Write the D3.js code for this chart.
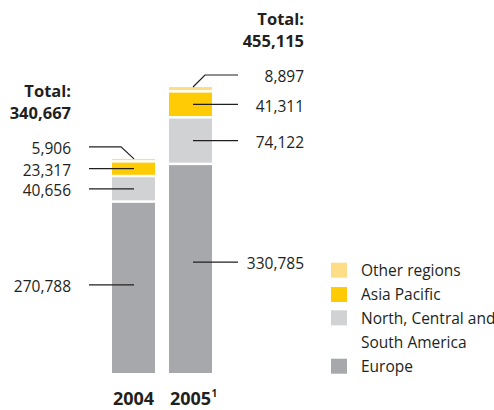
<!DOCTYPE html>
<html>
<head>
<meta charset="utf-8">
<script src="https://cdn.jsdelivr.net/npm/d3@7"></script>
<style>
  html, body { margin: 0; padding: 0; background: #fff; }
  svg text { font-family: "Open Sans", "Noto Sans", sans-serif; fill: #231f20; }
</style>
</head>
<body>
<svg id="chart" width="494" height="410"></svg>
<script>
// ---- data ----
const years = ["2004", "2005"];
const yearLabels = ["2004", "2005"];
const yearFootnotes = ["", "1"];
const regions = ["Europe", "North, Central and South America", "Asia Pacific", "Other regions"];
const europe = [270788, 330785];
const americas = [40656, 74122];
const asiaPacific = [23317, 41311];
const otherRegions = [5906, 8897];
const totals = [340667, 455115];
const valueLabels = [["270,788", "40,656", "23,317", "5,906"], ["330,785", "74,122", "41,311", "8,897"]];
const totalLabels = ["340,667", "455,115"];
const legendItems = ["Other regions", "Asia Pacific", "North, Central and|South America", "Europe"];

// ---- style ----
const colors = {
  "Europe": "#a7a8ac",
  "North, Central and South America": "#d1d2d4",
  "Asia Pacific": "#ffcb05",
  "Other regions": "#fedd87"
};
const legendColorOrder = ["Other regions", "Asia Pacific", "North, Central and South America", "Europe"];

const svg = d3.select("#chart");
const x = d3.scaleBand().domain(years).range([112, 212]).paddingInner(0.2456).paddingOuter(0);
const y = d3.scaleLinear().domain([0, 455115]).range([373, 87]);
const gap = 2.5;

const series = [europe, americas, asiaPacific, otherRegions];

years.forEach((yr, j) => {
  let cum = 0;
  series.forEach((s, i) => {
    const v = s[j];
    const top = y(cum + v);
    const bottom = y(cum) - (i > 0 ? gap : 0);
    svg.append("rect")
      .attr("x", x(yr)).attr("width", x.bandwidth())
      .attr("y", top).attr("height", Math.max(0.8, bottom - top))
      .attr("fill", colors[regions[i]]);
    s._mid = s._mid || [];
    s._mid[j] = (top + bottom) / 2;
    s._top = s._top || [];
    s._top[j] = top;
    cum += v;
  });
});

// leader lines + value labels
const labelFont = 15.5;
const europeShift = [-3, -7];
years.forEach((yr, j) => {
  const left = j === 0;
  const cx = x(yr) + x.bandwidth() / 2 + (left ? 0.5 : 2.5);
  const outer = left ? x(yr) - 23 : x(yr) + x.bandwidth() + 26;
  const textX = left ? 71 : 304;
  series.forEach((s, i) => {
    let ly;
    if (i === 3) {
      const tp = s._top[j];
      ly = tp - 12;
      const elbow = left ? cx - 13 : cx + 12;
      svg.append("path")
        .attr("d", `M${outer},${ly}L${elbow},${ly}L${cx},${tp}`)
        .attr("fill", "none").attr("stroke", "#231f20").attr("stroke-width", 1.2);
    } else {
      ly = s._mid[j] + (i === 0 ? europeShift[j] : 0);
      svg.append("line")
        .attr("x1", outer).attr("x2", cx).attr("y1", ly).attr("y2", ly)
        .attr("stroke", "#231f20").attr("stroke-width", 1.2);
    }
    svg.append("text")
      .attr("x", textX).attr("y", ly + 2).attr("dy", "0.35em")
      .attr("text-anchor", "end")
      .style("font-size", labelFont + "px")
      .text(valueLabels[j][i]);
  });
  // totals
  const tTop = y(totals[j]);
  svg.append("text").attr("x", textX).attr("y", tTop - 46).attr("dy", "0.35em")
    .attr("text-anchor", "end").style("font-size", "16.5px").style("font-weight", "bold")
    .text(totalLabels[j]);
  svg.append("text").attr("x", textX).attr("y", tTop - 68).attr("dy", "0.35em")
    .attr("text-anchor", "end").style("font-size", "16.5px").style("font-weight", "bold")
    .text("Total:");
  // year labels
  const yl = svg.append("text").attr("x", x(yr) + x.bandwidth() / 2).attr("y", 399).attr("dy", "0.35em")
    .attr("text-anchor", "middle").style("font-size", "18px").style("font-weight", "bold")
    .text(yearLabels[j]);
  if (yearFootnotes[j]) {
    const w = yl.node().getComputedTextLength();
    svg.append("text").attr("x", x(yr) + x.bandwidth() / 2 + w / 2 + 0.5).attr("y", 393)
      .attr("dy", "0.35em").style("font-size", "10px").style("font-weight", "bold")
      .text(yearFootnotes[j]);
  }
});

// legend
const legendRows = [270.7, 295, 318.3, 366.7];
legendItems.forEach((item, k) => {
  const cy = legendRows[k];
  svg.append("rect").attr("x", 331).attr("y", cy - 8).attr("width", 16).attr("height", 15)
    .attr("fill", colors[legendColorOrder[k]]);
  item.split("|").forEach((line, li) => {
    svg.append("text").attr("x", 361).attr("y", cy + li * 24.4).attr("dy", "0.35em")
      .style("font-size", labelFont + "px").text(line);
  });
});
</script>
</body>
</html>
